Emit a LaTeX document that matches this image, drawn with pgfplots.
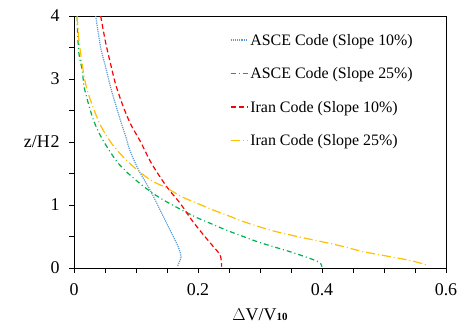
\documentclass[border=0pt]{standalone}
\usepackage{pgfplots}
\pgfplotsset{compat=1.18}
\usepackage{fontspec}
\setmainfont{Liberation Serif}
\definecolor{cblue}{HTML}{5B9BD5}
\definecolor{cgreen}{HTML}{00B050}
\definecolor{cred}{HTML}{FF0000}
\definecolor{corange}{HTML}{FFC000}
\begin{document}
\begin{tikzpicture}
\begin{axis}[
  scale only axis, width=372bp, height=252bp,
  xmin=0, xmax=0.6, ymin=0, ymax=4,
  xtick={0,0.2,0.4,0.6}, minor x tick num=3,
  ytick={0,1,2,3,4}, minor y tick num=1,
  tick align=outside, xtick pos=bottom, ytick pos=left,
  major tick length=5bp, minor tick length=5bp,
  tick style={black, line width=0.8bp},
  axis line style={black, line width=0.8bp},
  /pgf/number format/assume math mode=true,
  xticklabel style={/pgf/number format/fixed, font=\fontsize{18}{18}\selectfont, yshift=-7bp},
  yticklabel style={font=\fontsize{18}{18}\selectfont, xshift=-6bp},
  xlabel={$\Delta$V/V{\fontsize{11}{11}\selectfont\bfseries 10}},
  xlabel style={font=\fontsize{18}{18}\selectfont, at={(axis description cs:0.5,0)}, anchor=center, yshift=-47bp, inner sep=0pt},
  ylabel={z/H},
  ylabel style={font=\fontsize{18}{18}\selectfont, rotate=-90, at={(axis description cs:0,0.5)}, anchor=east, xshift=-24bp, inner sep=0pt},
  legend style={draw=none, fill=none, at={(rel axis cs:0.41,0.945)}, anchor=north west, font=\fontsize{16}{16}\selectfont, row sep=17bp},
  legend cell align=left,
  legend image code/.code={\draw[#1] (0bp,0.3bp) -- (17bp,0.3bp);},
  every axis plot/.append style={line width=1.2bp},
]
\addplot[cblue, densely dotted, smooth, forget plot] coordinates {
(0.035,4.0)(0.043,3.5)(0.051,3.19)(0.059,2.87)(0.067,2.60)(0.075,2.34)(0.080,2.19)(0.084,2.07)(0.090,1.87)(0.104,1.56)(0.1226,1.24)(0.139,0.92)(0.155,0.60)(0.168,0.34)(0.1726,0.18)(0.170,0.10)(0.167,0.03)};
\addplot[cgreen, dash pattern=on 5bp off 3bp on 1bp off 3bp, smooth, forget plot] coordinates {
(0.005,4.0)(0.006,3.7)(0.008,3.40)(0.0134,3.13)(0.016,2.89)(0.0226,2.63)(0.0306,2.37)(0.040,2.15)(0.0527,1.93)(0.069,1.69)(0.0796,1.58)(0.0876,1.50)(0.1065,1.34)(0.128,1.18)(0.1495,1.05)(0.174,0.92)(0.198,0.80)(0.222,0.70)(0.246,0.60)(0.273,0.50)(0.295,0.42)(0.321,0.34)(0.348,0.26)(0.3726,0.18)(0.394,0.10)(0.399,0.05)(0.400,0.02)};
\addplot[cred, dash pattern=on 5bp off 3bp, smooth, forget plot] coordinates {
(0.043,4.0)(0.051,3.58)(0.059,3.24)(0.067,2.92)(0.078,2.60)(0.091,2.29)(0.1075,2.0)(0.125,1.66)(0.1495,1.29)(0.171,1.03)(0.190,0.76)(0.211,0.50)(0.2247,0.34)(0.2355,0.21)(0.238,0.07)(0.238,0.02)};
\addplot[corange, dash pattern=on 9bp off 3bp on 1bp off 3bp, smooth, forget plot] coordinates {
(0.005,4.0)(0.0075,3.66)(0.0124,3.29)(0.0188,2.92)(0.0296,2.58)(0.043,2.26)(0.059,2.0)(0.074,1.82)(0.090,1.66)(0.109,1.50)(0.128,1.37)(0.1495,1.27)(0.174,1.13)(0.198,1.03)(0.2247,0.92)(0.249,0.83)(0.278,0.72)(0.321,0.59)(0.3645,0.49)(0.394,0.43)(0.424,0.365)(0.4666,0.26)(0.5097,0.18)(0.542,0.12)(0.569,0.05)};
\addlegendimage{cblue, densely dotted, line width=1.6bp}
\addlegendentry{ASCE Code (Slope 10\%)}
\addlegendimage{cgreen, line width=1.6bp, dash pattern=on 5bp off 3bp on 1bp off 3bp}
\addlegendentry{ASCE Code (Slope 25\%)}
\addlegendimage{cred, line width=1.6bp, dash pattern=on 5bp off 3bp}
\addlegendentry{Iran Code (Slope 10\%)}
\addlegendimage{corange, line width=1.6bp, dash pattern=on 9bp off 3bp on 1bp off 3bp}
\addlegendentry{Iran Code (Slope 25\%)}
\end{axis}
\pgfresetboundingbox
\path ([shift={(-74bp,-59bp)}]current axis.south west) rectangle ([shift={(14bp,16bp)}]current axis.north east);
\end{tikzpicture}
\end{document}
